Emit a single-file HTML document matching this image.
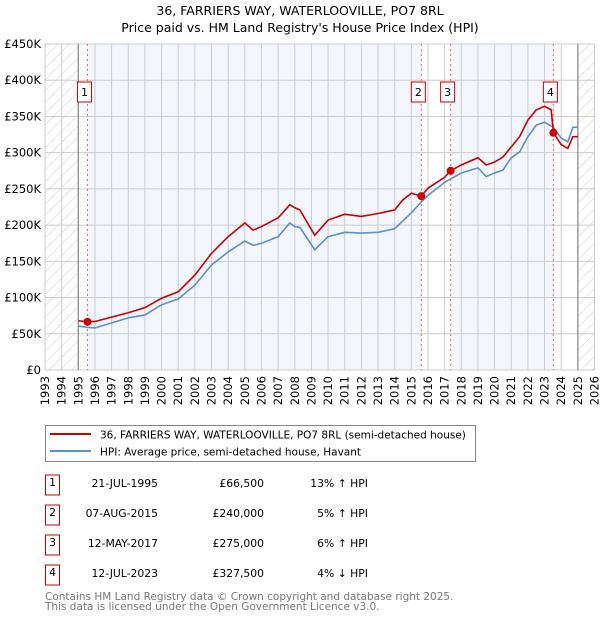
<!DOCTYPE html>
<html><head><meta charset="utf-8">
<style>
body{margin:0;background:#fff;font-family:"Liberation Sans","DejaVu Sans",sans-serif;}
svg text{font-family:"DejaVu Sans","Liberation Sans",sans-serif;}
</style></head>
<body>
<svg id="chart" width="600" height="620" viewBox="0 0 600 620" xmlns="http://www.w3.org/2000/svg">
<defs>
<pattern id="hatch" patternUnits="userSpaceOnUse" width="8" height="8" patternTransform="rotate(45)">
<line x1="0" y1="0" x2="0" y2="8" stroke="#ccc" stroke-width="1"/>
</pattern>
</defs>
<text x="300" y="15" text-anchor="middle" font-size="12.5">36, FARRIERS WAY, WATERLOOVILLE, PO7 8RL</text>
<text x="300" y="32" text-anchor="middle" font-size="12.5">Price paid vs. HM Land Registry's House Price Index (HPI)</text>
<g id="plot"></g>
<g id="legend">
<rect x="45.5" y="425.5" width="430" height="36" fill="#fff" stroke="#888"/>
<line x1="50" y1="434" x2="91" y2="434" stroke="#cc0000" stroke-width="2"/>
<text x="100" y="438.5" font-size="10.5">36, FARRIERS WAY, WATERLOOVILLE, PO7 8RL (semi-detached house)</text>
<line x1="50" y1="451" x2="91" y2="451" stroke="#5b8fd0" stroke-width="2"/>
<text x="100" y="455.5" font-size="10.5">HPI: Average price, semi-detached house, Havant</text>
</g>
<g id="table" font-size="10.8"></g>
<text x="45" y="600" font-size="10.5" fill="#777">Contains HM Land Registry data © Crown copyright and database right 2025.</text>
<text x="45" y="610" font-size="10.5" fill="#777">This data is licensed under the Open Government Licence v3.0.</text>
</svg>
<script>
const hpiYears=[1995.0,1995.5,1996,1997,1998,1999,2000,2001,2002,2003,2004,2005,2005.5,2006,2007,2007.7,2008,2008.3,2009.2,2010,2011,2012,2013,2014,2015,2015.6,2016,2017,2018,2019,2019.5,2020,2020.5,2021,2021.5,2022,2022.5,2023,2023.53,2024,2024.4,2024.7,2025.0];
const hpiValues=[60.7,59,58,65,72,76,90,98,117,145,163,178,172,175,184,203,198,197,166,184,190,189,190,195,217,232,241,259,272,279,267,272,276,293,301,322,338,342,335,320,315,335,335];
const priceYears=[1995.0,1995.55,1996,1997,1998,1999,2000,2001,2002,2003,2004,2005,2005.5,2006,2007,2007.7,2008,2008.3,2009.2,2010,2011,2012,2013,2014,2014.5,2015,2015.6,2016,2017,2017.36,2018,2019,2019.5,2020,2020.5,2021,2021.5,2022,2022.5,2023,2023.4,2023.53,2024,2024.4,2024.7,2025.0];
const priceValues=[68,66.5,67,73,79,86,99,108,131,161,184,203,193,198,210,228,224,221,186,207,215,212,216,221,235,244,240,251,266,275,283,293,283,287,294,308,322,345,359,364,359,327.5,311,306,322,322];
const saleLabels=["1","2","3","4"];
const saleYears=[1995.55,2015.6,2017.36,2023.53];
const saleValues=[66.5,240,275,327.5];
const saleDates=["21-JUL-1995","07-AUG-2015","12-MAY-2017","12-JUL-2023"];
const salePrices=["£66,500","£240,000","£275,000","£327,500"];
const saleHpi=["13% ↑ HPI","5% ↑ HPI","6% ↑ HPI","4% ↓ HPI"];
const yTicks=[0,50,100,150,200,250,300,350,400,450];
const yTickLabels=["£0","£50K","£100K","£150K","£200K","£250K","£300K","£350K","£400K","£450K"];
const xTicks=[1993,1994,1995,1996,1997,1998,1999,2000,2001,2002,2003,2004,2005,2006,2007,2008,2009,2010,2011,2012,2013,2014,2015,2016,2017,2018,2019,2020,2021,2022,2023,2024,2025,2026];

const NS="http://www.w3.org/2000/svg";
const X0=45,X1=594.5,Y0=370,Y1=44;
const xs=y=>X0+(y-1993)/(2026-1993)*(X1-X0);
const ys=v=>Y0-v/450*(Y0-Y1);
const plot=document.getElementById('plot');
function mk(tag,attrs,parent){const e=document.createElementNS(NS,tag);for(const k in attrs)e.setAttribute(k,attrs[k]);(parent||plot).appendChild(e);return e;}

let r;
r=mk('rect',{x:X0,y:Y1,width:X1-X0,height:Y0-Y1,fill:'#fff'});

const bands=[[saleYears[0],saleYears[1]],[saleYears[2],saleYears[3]]];
bands.forEach(b=>{r=mk('rect',{x:xs(b[0]),y:Y1,width:xs(b[1])-xs(b[0]),height:Y0-Y1,fill:'#f3f7fd'});
});
r=mk('rect',{x:X0,y:Y1,width:xs(1995)-X0,height:Y0-Y1,fill:'url(#hatch)'});

r=mk('rect',{x:xs(2025),y:Y1,width:X1-xs(2025),height:Y0-Y1,fill:'url(#hatch)'});


yTicks.forEach((v,i)=>{let l=mk('line',{x1:X0,x2:X1,y1:ys(v),y2:ys(v),stroke:'#ccc','stroke-width':1});

let t=mk('text',{x:X0-4,y:ys(v)+4,'text-anchor':'end','font-size':11.5});t.textContent=yTickLabels[i];
});
xTicks.forEach(y=>{let l=mk('line',{x1:xs(y),x2:xs(y),y1:Y1,y2:Y0,stroke:'#ccc','stroke-width':1});

let t=mk('text',{x:0,y:0,'text-anchor':'end','font-size':11.5,transform:`translate(${xs(y)+4},${Y0+6}) rotate(-90)`});t.textContent=y;
});
[1995,2025].forEach(y=>{let l=mk('line',{x1:xs(y),x2:xs(y),y1:Y1,y2:Y0,stroke:'#888','stroke-width':1.2});
});

saleYears.forEach(y=>{let l=mk('line',{x1:xs(y),x2:xs(y),y1:Y1,y2:Y0,stroke:'#f06060','stroke-width':1,'stroke-dasharray':'2,3'});
});

let p=mk('polyline',{points:hpiYears.map((y,i)=>xs(y)+','+ys(hpiValues[i])).join(' '),fill:'none',stroke:'#5b8fd0','stroke-width':1.6});

p=mk('polyline',{points:priceYears.map((y,i)=>xs(y)+','+ys(priceValues[i])).join(' '),fill:'none',stroke:'#cc0000','stroke-width':1.6});


saleYears.forEach((y,i)=>{let c=mk('circle',{cx:xs(y),cy:ys(saleValues[i]),r:4,fill:'#cc0000'});

let g=mk('g',{});

mk('rect',{x:xs(y)-10,y:82,width:14,height:20,fill:'#fff',stroke:'#cc0000'},g);
let t=mk('text',{x:xs(y)-3,y:96,'text-anchor':'middle','font-size':11},g);t.textContent=saleLabels[i];
});

const tb=document.getElementById('table');
saleLabels.forEach((s,i)=>{const cy=487+30*i;
let g=mk('g',{},tb);
mk('rect',{x:45.5,y:cy-12,width:14,height:20,fill:'#fff',stroke:'#cc0000'},g);
let t=mk('text',{x:52.5,y:cy-1,'text-anchor':'middle'},g);t.textContent=s;
t=mk('text',{x:158,y:cy,'text-anchor':'end'},g);t.textContent=saleDates[i];
t=mk('text',{x:264,y:cy,'text-anchor':'end'},g);t.textContent=salePrices[i];
t=mk('text',{x:368,y:cy,'text-anchor':'end'},g);t.textContent=saleHpi[i];
});
</script>
</body></html>
